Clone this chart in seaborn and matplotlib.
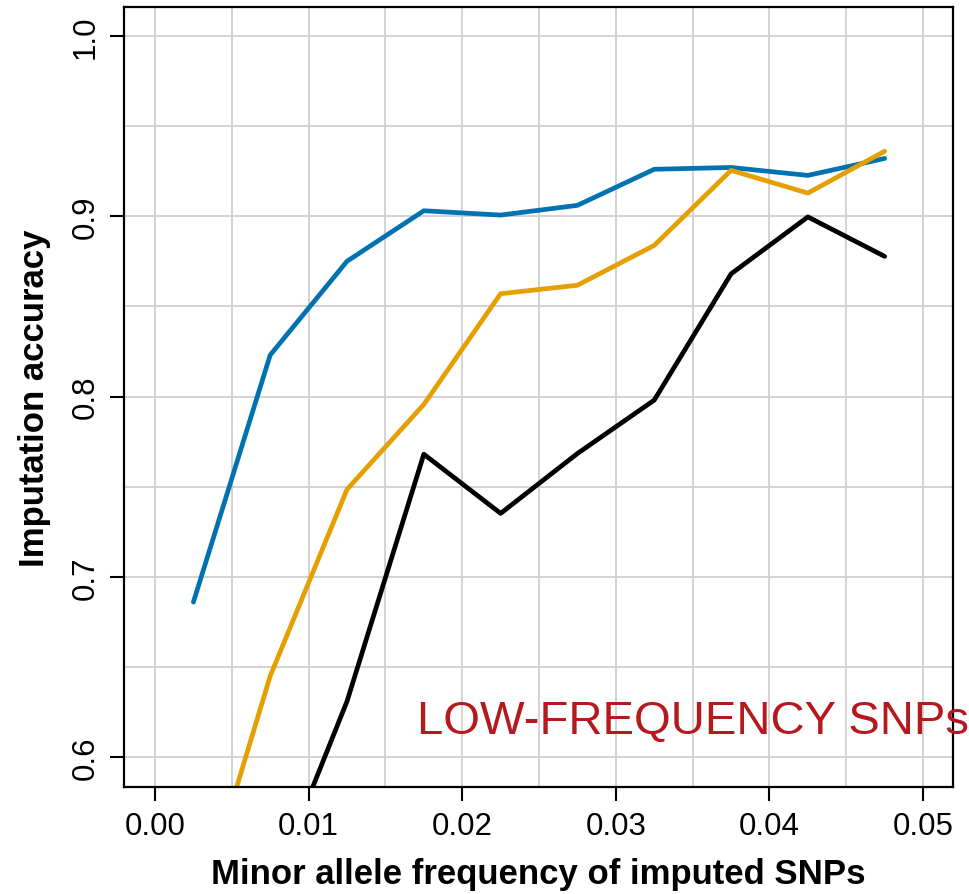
import pandas as pd
import matplotlib.pyplot as plt
import matplotlib.ticker as mticker
import seaborn as sns

# MAF bin midpoints and imputation accuracy per panel
maf = [0.0025, 0.0075, 0.0125, 0.0175, 0.0225, 0.0275, 0.0325, 0.0375, 0.0425, 0.0475]
acc_blue = [0.686, 0.823, 0.875, 0.903, 0.9006, 0.906, 0.926, 0.927, 0.9226, 0.932]
acc_orange = [0.504, 0.645, 0.7485, 0.7956, 0.857, 0.8617, 0.8838, 0.9254, 0.9128, 0.936]
acc_black = [0.45, 0.5245, 0.631, 0.768, 0.7352, 0.7684, 0.798, 0.868, 0.8996, 0.8777]
series = ['blue', 'orange', 'black']
colors = {'blue': '#0072B2', 'orange': '#E69F00', 'black': '#000000'}

df = pd.DataFrame({
    'maf': maf * 3,
    'acc': acc_blue + acc_orange + acc_black,
    'panel': [s for s in series for _ in maf],
})

sns.set_style('white')
plt.rcParams['font.family'] = ['Liberation Sans', 'DejaVu Sans']
plt.rcParams['text.color'] = 'black'
plt.rcParams['axes.labelcolor'] = 'black'
plt.rcParams['xtick.color'] = 'black'
plt.rcParams['ytick.color'] = 'black'

fig = plt.figure(figsize=(9.7, 8.95), dpi=100)
ax = fig.add_axes([0.1278, 0.1196, 0.8547, 0.8715])

sns.lineplot(data=df, x='maf', y='acc', hue='panel', palette=colors,
             hue_order=series, linewidth=3.4, legend=False, ax=ax,
             solid_capstyle='round', solid_joinstyle='round')

ax.set_xlim(-0.00202, 0.05195)
ax.set_ylim(0.5835, 1.016)
ax.xaxis.set_major_locator(mticker.MultipleLocator(0.01))
ax.xaxis.set_minor_locator(mticker.MultipleLocator(0.005))
ax.yaxis.set_major_locator(mticker.MultipleLocator(0.1))
ax.yaxis.set_minor_locator(mticker.MultipleLocator(0.05))
ax.xaxis.set_major_formatter(mticker.FormatStrFormatter('%.2f'))
ax.yaxis.set_major_formatter(mticker.FormatStrFormatter('%.1f'))
ax.grid(True, which='both', color='#d0d0d0', linewidth=1.3, zorder=0)
ax.set_axisbelow(True)

ax.tick_params(axis='both', which='major', bottom=True, left=True, length=10, width=1.5,
               labelsize=22.5, direction='out', color='black', labelcolor='black', pad=7)
ax.tick_params(axis='both', which='minor', length=0)
for lab in ax.get_yticklabels():
    lab.set_rotation(90)
    lab.set_va('center')
for sp in ax.spines.values():
    sp.set_linewidth(1.6)
    sp.set_color('black')

ax.set_xlabel('Minor allele frequency of imputed SNPs', fontsize=25, fontweight='bold', labelpad=12)
ax.set_ylabel('Imputation accuracy', fontsize=25, fontweight='bold', labelpad=14)

ax.text(0.01706, 0.6133, 'LOW-FREQUENCY SNPs', color='#B5191E', fontsize=34,
        ha='left', va='baseline')

fig.savefig('out.png', dpi=100)
